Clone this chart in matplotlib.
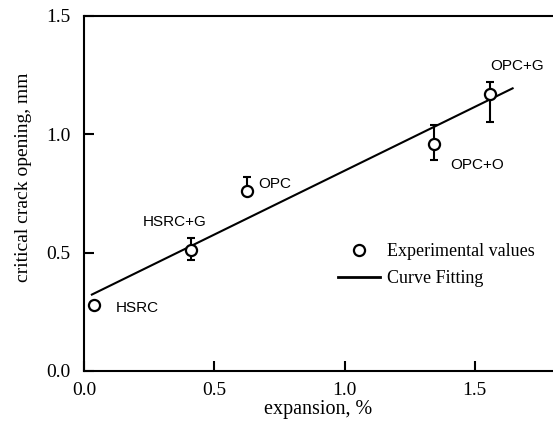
import numpy as np
import matplotlib
matplotlib.use("Agg")
import matplotlib.pyplot as plt
from matplotlib.lines import Line2D

# Measured critical crack opening versus expansion
labels = ["HSRC", "HSRC+G", "OPC", "OPC+O", "OPC+G"]
expansion = [0.04, 0.41, 0.625, 1.345, 1.56]
crack_opening = [0.28, 0.51, 0.76, 0.96, 1.17]
err_low = [0.0, 0.04, 0.0, 0.07, 0.12]
err_high = [0.0, 0.05, 0.06, 0.08, 0.05]

# Linear fit over the experimental range
fit_range = [0.03, 1.645]
slope, intercept = np.polyfit(expansion, crack_opening, 1)
fit_x = np.array(fit_range)
fit_y = intercept + slope * fit_x

serif = "Liberation Serif"
sans = "Liberation Sans"

fig = plt.figure(figsize=(5.53, 4.21), dpi=100)
ax = fig.add_axes([0.152, 0.119, 0.848, 0.843])

ax.plot(fit_x, fit_y, color="black", lw=1.5, zorder=2)

# Error bars (only nonzero ones drawn)
for x, y, lo, hi in zip(expansion, crack_opening, err_low, err_high):
    if lo > 0 or hi > 0:
        ax.errorbar([x], [y], yerr=[[lo], [hi]], fmt="none", ecolor="black",
                    elinewidth=1.5, capsize=3, capthick=1.5, zorder=3)

ax.plot(expansion, crack_opening, "o", ms=8, mfc="white", mec="black",
        mew=1.6, zorder=4)

# Point labels
label_pos = [(0.12, 0.267), (0.227, 0.631), (0.67, 0.79), (1.404, 0.869), (1.56, 1.29)]
for name, (tx, ty) in zip(labels, label_pos):
    ax.text(tx, ty, name, fontsize=11, family=sans, ha="left", va="center")

ax.set_xlim(0, 1.8)
ax.set_ylim(0, 1.5)
ax.set_xticks([0.0, 0.5, 1.0, 1.5])
ax.set_yticks([0.0, 0.5, 1.0, 1.5])
ax.set_xticklabels(["0.0", "0.5", "1.0", "1.5"])
ax.set_yticklabels(["0.0", "0.5", "1.0", "1.5"])
ax.tick_params(direction="in", length=7, width=1.5, labelsize=14, pad=8)
ax.tick_params(axis="y", pad=10)
for lab in ax.get_xticklabels() + ax.get_yticklabels():
    lab.set_family(serif)
ax.spines["right"].set_visible(False)
for s in ["left", "bottom", "top"]:
    ax.spines[s].set_linewidth(1.5)

ax.set_xlabel("expansion, %", fontsize=14.5, family=serif)
ax.set_ylabel("critical crack opening, mm", fontsize=14, family=serif)
ax.xaxis.set_label_coords(0.5, -0.083)
ax.yaxis.set_label_coords(-0.111, 0.546)

handles = [
    Line2D([], [], ls="none", marker="o", ms=8, mfc="white", mec="black", mew=1.6),
    Line2D([], [], color="black", lw=2),
]
ax.legend(handles, ["Experimental values", "Curve Fitting"], loc="upper left",
          bbox_to_anchor=(0.527, 0.38), frameon=False, handlelength=2.3,
          handletextpad=0.4, labelspacing=0.55, borderaxespad=0,
          prop={"family": serif, "size": 13})

fig.savefig("out.png", dpi=100)
